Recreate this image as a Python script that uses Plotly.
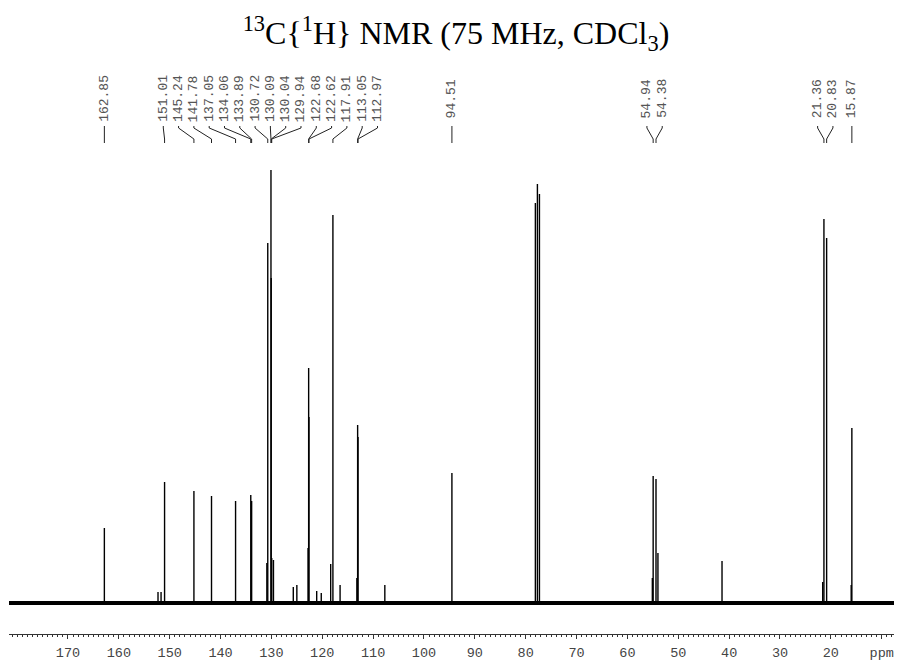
import plotly.graph_objects as go

# ---------------- data ----------------
title_html = "<sup>13</sup>C{<sup>1</sup>H} NMR (75 MHz, CDCl<sub>3</sub>)"

# labelled signals (ppm) and their relative intensities
label_ppm = [162.85, 151.01, 145.24, 141.78, 137.05, 134.06, 133.89, 130.72,
             130.09, 130.04, 129.94, 122.68, 122.62, 117.91, 113.05, 112.97,
             94.51, 54.94, 54.38, 21.36, 20.83, 15.87]
label_int = [75, 121, 112, 107, 102, 108, 102, 360,
             433, 325, 45, 235, 186, 388, 178, 166,
             130, 127, 124, 384, 365, 175]

# unlabelled signals (CDCl3 triplet, minor lines)
other_ppm = [152.3, 151.7, 130.9, 129.6, 125.7, 125.0, 122.8, 121.1, 120.2,
             118.35, 116.5, 113.2, 107.7, 78.1, 77.7, 77.3, 55.1, 54.0,
             41.4, 21.6, 16.0]
other_int = [11, 11, 40, 43, 16, 18, 55, 12, 10,
             39, 18, 25, 18, 400, 419, 409, 25, 50,
             42, 21, 18]

tick_vals = [170, 160, 150, 140, 130, 120, 110, 100, 90, 80, 70, 60, 50, 40, 30, 20, 10]
tick_text = ["170", "160", "150", "140", "130", "120", "110", "100", "90", "80",
             "70", "60", "50", "40", "30", "20", "ppm"]

x_range = [181.6, 6.6]
y_range = [-31, 543]

# ---------------- layout constants ----------------
W, H = 902, 660
OFF = 8                      # page body margin of the html page
ML, MR, MT, MB = 9 - OFF, 3 + OFF, 60 - OFF, 26 + OFF
plot_w = W - ML - MR
plot_h = H - MT - MB
px_per_ppm = plot_w / (x_range[0] - x_range[1])
label_gap = 15.3 / px_per_ppm  # ppm between adjacent labels


def py(ypx):
    """screen pixel row -> paper fraction"""
    return (H - MB - (ypx - OFF)) / plot_h


def spread(pos, gap):
    order = sorted(range(len(pos)), key=lambda i: -pos[i])
    groups = [[i] for i in order]

    def places(g):
        c = sum(pos[i] for i in g) / len(g)
        n = len(g)
        return [c + gap * ((n - 1) / 2 - k) for k in range(n)]

    changed = True
    while changed:
        changed = False
        out = []
        for g in groups:
            if out and places(out[-1])[-1] - places(g)[0] < gap - 1e-9:
                out[-1] = out[-1] + g
                changed = True
            else:
                out.append(g)
        groups = out
    res = [0.0] * len(pos)
    for g in groups:
        for i, p in zip(g, places(g)):
            res[i] = p
    return res


label_x = spread(label_ppm, label_gap)

# ---------------- figure ----------------
fig = go.Figure()

# baseline
fig.add_trace(go.Scatter(x=x_range, y=[0, 0], mode="lines",
                         line=dict(color="black", width=4), hoverinfo="skip"))

# peaks as sticks
all_ppm = label_ppm + other_ppm
all_int = label_int + other_int
sx, sy = [], []
for p, h in zip(all_ppm, all_int):
    sx += [p, p, None]
    sy += [0, h, None]
fig.add_trace(go.Scatter(x=sx, y=sy, mode="lines",
                         line=dict(color="black", width=1.4), hoverinfo="skip"))

# labels + connectors
shapes = []
annotations = []
y_mid, y_text, y_a, y_b, y_end = 98.5, 126, 128, 139, 143
for p, lx in zip(label_ppm, label_x):
    annotations.append(dict(x=lx, y=py(y_mid), xref="x", yref="paper",
                            text=f"{p:.2f}", textangle=-90, showarrow=False,
                            xanchor="center", yanchor="middle",
                            font=dict(family="Liberation Mono, Courier New, monospace",
                                      size=13, color="#555")))
    path = (f"M {lx},{py(y_text)} L {lx},{py(y_a)} L {p},{py(y_b)} L {p},{py(y_end)}")
    shapes.append(dict(type="path", path=path, xref="x", yref="paper",
                       line=dict(color="#222", width=1)))

fig.update_layout(
    width=W, height=H,
    margin=dict(l=ML, r=MR, t=MT, b=MB),
    plot_bgcolor="white", paper_bgcolor="white",
    showlegend=False,
    title=dict(text=title_html, x=448 / W, xanchor="center", y=1 - 25 / H,
               yanchor="middle", yref="container",
               font=dict(family="Liberation Serif, Times New Roman, serif",
                         size=32, color="black")),
    xaxis=dict(range=x_range, autorange=False, showgrid=False, zeroline=False,
               showline=True, linecolor="#333", linewidth=1,
               tickmode="array", tickvals=tick_vals, ticktext=tick_text,
               ticks="outside", ticklen=4, tickcolor="#333", tickwidth=1,
               ticklabelstandoff=2,
               minor=dict(dtick=1, tick0=0, ticks="outside", ticklen=2,
                          tickcolor="#333", tickwidth=1, showgrid=False),
               tickfont=dict(family="Liberation Mono, Courier New, monospace",
                             size=13.5, color="#444"),
               automargin=False),
    yaxis=dict(range=y_range, autorange=False, visible=False, automargin=False),
    shapes=shapes,
    annotations=annotations,
)

fig.write_html("out.html")
